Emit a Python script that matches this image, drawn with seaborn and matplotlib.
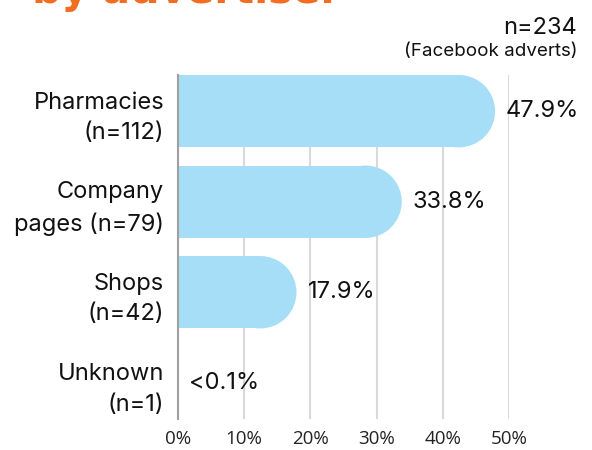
import matplotlib
matplotlib.use("Agg")
import matplotlib.pyplot as plt
import seaborn as sns
import pandas as pd
from matplotlib.patches import Ellipse

# ---- data ----
categories = ["Pharmacies\n(n=112)", "Company\npages (n=79)", "Shops\n(n=42)", "Unknown\n(n=1)"]
shares = [47.9, 33.8, 17.9, 0.05]
value_labels = ["47.9%", "33.8%", "17.9%", "<0.1%"]
xticks = [0, 10, 20, 30, 40, 50]
xtick_labels = ["0%", "10%", "20%", "30%", "40%", "50%"]
title_text = "by advertiser"
note_main = "n=234"
note_sub = "(Facebook adverts)"

bar_color = "#a6def8"
orange = "#f26c22"

sns.set_theme(style="white")
plt.rcParams["font.family"] = ["Inter", "DejaVu Sans"]

W, H = 592, 450
fig = plt.figure(figsize=(W / 100, H / 100), dpi=100)
ax = fig.add_axes([178 / W, 1 - 419 / H, 331 / W, 344 / H])

df = pd.DataFrame({"category": categories, "share": shares})
sns.barplot(data=df, x="share", y="category", orient="h", color=bar_color,
            saturation=1, width=0.8, linewidth=0, ax=ax)

ax.set_xlim(0, 50)
ax.set_ylim(3.4, -0.4)
ax.set_xlabel("")
ax.set_ylabel("")
ax.set_xticks(xticks)
ax.set_xticklabels(xtick_labels, family=["Open Sans", "DejaVu Sans"], fontsize=13.5, color="#222222")
ax.tick_params(axis="x", length=0, pad=8)
ax.tick_params(axis="y", length=0, pad=10, labelsize=17, labelcolor="#111111")
for lab in ax.get_yticklabels():
    lab.set_multialignment("right")
    lab.set_linespacing(1.5)

ax.grid(axis="x", color="#d9d9d9", lw=1.5)
ax.grid(axis="y", visible=False)
ax.set_axisbelow(True)
for s in ["top", "right", "bottom"]:
    ax.spines[s].set_visible(False)
ax.spines["left"].set_color("#a0a0a0")
ax.spines["left"].set_linewidth(1.5)

# rounded right ends
fig.canvas.draw()
t0 = ax.transData.transform((0, 0))
px_x = ax.transData.transform((1, 0))[0] - t0[0]
px_y = abs(ax.transData.transform((0, 1))[1] - t0[1])
for p in list(ax.patches):
    w = p.get_width()
    h = p.get_height()
    y = p.get_y()
    r = (h * px_y / 2) / px_x
    if w > r:
        p.set_width(w - r)
        ax.add_patch(Ellipse((w - r, y + h / 2), 2 * r, h, facecolor=bar_color,
                             edgecolor="none", lw=0, zorder=p.get_zorder()))

for i, (v, lab) in enumerate(zip(shares, value_labels)):
    ax.annotate(lab, xy=(v, i), xytext=(11, 0), textcoords="offset pixels",
                ha="left", va="center", fontsize=17, color="#111111", annotation_clip=False)

fig.text(32 / W, 1 - 3 / H, title_text, fontsize=29.5, fontweight="bold",
         family=["DejaVu Sans"], color=orange, ha="left", va="baseline")
fig.text(577 / W, 1 - 34 / H, note_main, fontsize=17, color="#111111",
         ha="right", va="baseline")
fig.text(577 / W, 1 - 56 / H, note_sub, fontsize=13.5, color="#111111",
         ha="right", va="baseline")

fig.savefig("out.png", dpi=100)
